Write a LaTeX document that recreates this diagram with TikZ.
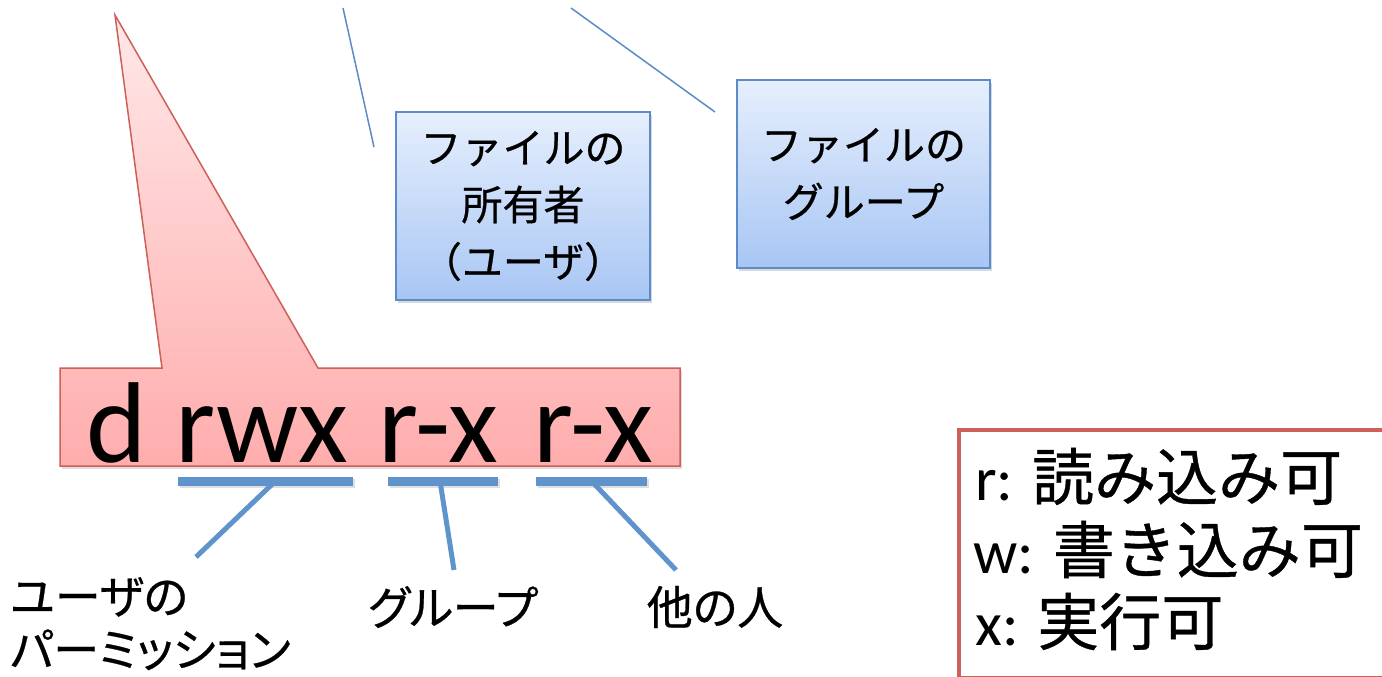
\documentclass[tikz,border=0pt]{standalone}
\usepackage{fontspec}
\setmainfont{Carlito}
\newfontfamily\cjk[FakeBold=0.6]{Noto Sans CJK JP}
\newfontfamily\cjkp[RawFeature=+palt,FakeBold=0.6]{Noto Sans CJK JP}
\usetikzlibrary{shadows}
\definecolor{bluebd}{HTML}{5B8BC8}
\definecolor{barblue}{HTML}{5F93CB}
\definecolor{redbd}{HTML}{CD6059}
\definecolor{pinktop}{HTML}{FFE8E8}
\definecolor{pinkbot}{HTML}{FFADAD}
\definecolor{bluetop}{HTML}{E6EFFD}
\definecolor{bluebot}{HTML}{A8C6F4}
\begin{document}
\begin{tikzpicture}[x=1pt,y=-1pt,
  infobox/.style={draw=bluebd, line width=1.5pt, top color=bluetop, bottom color=bluebot,
    drop shadow={opacity=0.3,shadow xshift=2pt,shadow yshift=-3pt},
    inner sep=0pt, align=center, font=\cjk\fontsize{41}{57}\selectfont},
  ubar/.style={fill=barblue, inner sep=0pt, minimum height=9pt,
    drop shadow={opacity=0.25,shadow xshift=1.5pt,shadow yshift=-2pt}},
  conn/.style={draw=barblue, line width=5pt},
  leader/.style={draw=bluebd, line width=1.5pt},
  jlabel/.style={inner sep=0pt, font=\cjkp\fontsize{46}{53}\selectfont},
  legtext/.style={inner sep=0pt, anchor=base west, font=\fontsize{62}{62}\selectfont}]
\useasboundingbox (0,0) rectangle (1382,677);

% callout
\path[draw=redbd, line width=1.5pt, top color=pinktop, bottom color=pinkbot,
  drop shadow={opacity=0.25,shadow xshift=2pt,shadow yshift=-3pt}]
  (60,368) -- (162,368) -- (115,15) -- (318,368) -- (680,368) -- (680,466) -- (60,466) -- cycle;
\node[anchor=base west, inner sep=0pt, font=\fontsize{115}{115}\selectfont] (perm) at (86,462) {d\hspace{29pt}rwx\hspace{30pt}r-x\hspace{36pt}r-x};

% boxes
\node[infobox, minimum width=254pt, minimum height=188pt] (owner) at (523,206) {ファイルの\\所有者\\（ユーザ）};
\node[infobox, minimum width=253pt, minimum height=188pt] (grp) at (863.5,174) {ファイルの\\グループ};

% leader lines
\coordinate (l1a) at (343,8);
\coordinate (l1b) at (374,147);
\coordinate (l2a) at (571,8);
\coordinate (l2b) at (715,112);
\draw[leader] (l1a) -- (l1b);
\draw[leader] (l2a) -- (l2b);

% bars
\node[ubar, minimum width=175pt] (bar1) at (265.5,481) {};
\node[ubar, minimum width=110pt] (bar2) at (443,481) {};
\node[ubar, minimum width=111pt] (bar3) at (591.5,481) {};

% labels
\node[jlabel, anchor=north west, align=left] (lu) at (10,577) {ユーザの\\パーミッション};
\node[jlabel] (lg) at (453,607) {グループ};
\node[jlabel] (lo) at (715,607) {他の人};

\coordinate (c1) at (196,557);
\coordinate (c2) at (454,570);
\coordinate (c3) at (676,570);
\draw[conn] ([xshift=10pt]bar1.center) -- (c1);
\draw[conn] ([xshift=-3pt]bar2.center) -- (c2);
\draw[conn] ([xshift=0pt]bar3.center) -- (c3);

% legend
\node[draw=redbd, line width=4pt, minimum width=440pt, minimum height=248pt, anchor=north west, inner sep=0pt] (legend) at (957,428) {};
\node[legtext] (r) at (975,500) {r: {\cjk 読み込み可}};
\node[legtext] (w) at (973,573) {w: {\cjk 書き込み可}};
\node[legtext] (x) at (975,645) {x: {\cjk 実行可}};
\end{tikzpicture}
\end{document}
